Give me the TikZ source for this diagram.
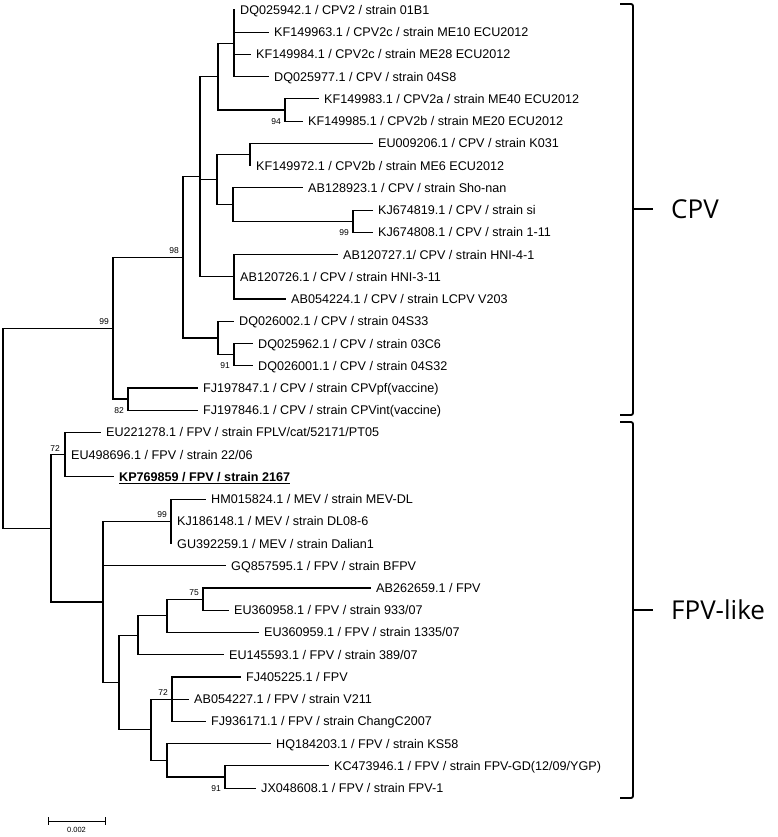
\documentclass[tikz,border=0pt]{standalone}
\usepackage{fontspec}
\setmainfont{Liberation Sans}
\newfontfamily\cladefont{Open Sans}
\usepackage{tikz}
\tikzstyle{leaf}=[anchor=west, inner xsep=6pt, inner ysep=0pt, text height=9pt, text depth=0pt, font=\fontsize{12.6}{14}\selectfont]
\tikzstyle{boot}=[inner sep=0pt, font=\fontsize{8.5}{10}\selectfont]
\tikzstyle{twig}=[line width=1.2pt, line cap=rect, to path={-| (\tikztotarget)}]
\tikzstyle{brace}=[line width=1.8pt, rounded corners=2pt]
\tikzstyle{clade}=[anchor=west, inner sep=0pt, font=\cladefont\fontsize{26}{30}\selectfont]

\begin{document}
\begin{tikzpicture}[x=1pt, y=-1pt]
            \useasboundingbox (0,0) rectangle (778,837);
            \coordinate (root) at (3, 428.2);
            % CPV
            \coordinate (n99) at (113, 328.15) edge[twig] (root);
            \coordinate (n98) at (183, 257.3) edge[twig] (n99);
            \coordinate (nA) at (200, 176.7) edge[twig] (n98);
            \coordinate (nB) at (218, 76.7) edge[twig] (nA);
            \coordinate (nC) at (234, 43.35) edge[twig] (nB);
            \coordinate (n94) at (285, 110.05) edge[twig] (nB);
            \coordinate (nD) at (217, 179.5) edge[twig] (nA);
            \coordinate (nE) at (250, 154.5) edge[twig] (nD);
            \coordinate (nF) at (233, 204.5) edge[twig] (nD);
            \coordinate (n99b) at (353, 221.2) edge[twig] (nF);
            \coordinate (nG) at (234, 276.75) edge[twig] (nA);
            \coordinate (nH) at (218, 337.9) edge[twig] (n98);
            \coordinate (n91) at (234, 354.6) edge[twig] (nH);
            \coordinate (n82) at (128, 399) edge[twig] (n99);
            % FPV-like
            \coordinate (nI) at (51, 528.25) edge[twig] (root);
            \coordinate (n72) at (65, 454.6) edge[twig] (nI);
            \coordinate (nJ) at (103, 601.9) edge[twig] (nI);
            \coordinate (n99c) at (171, 521.3) edge[twig] (nJ);
            \coordinate (nK) at (119, 682.45) edge[twig] (nJ);
            \coordinate (nL) at (138, 635.2) edge[twig] (nK);
            \coordinate (nM) at (167, 615.75) edge[twig] (nL);
            \coordinate (n75) at (203, 599.1) edge[twig] (nM);
            \coordinate (nN) at (151, 729.7) edge[twig] (nK);
            \coordinate (n72b) at (172, 699.15) edge[twig] (nN);
            \coordinate (nO) at (167, 760.3) edge[twig] (nN);
            \coordinate (n91b) at (225, 776.95) edge[twig] (nO);

            \node[leaf] (DQ025942) at (234, 10) {DQ025942.1 / CPV2 / strain 01B1}
                edge[twig] (nC)
            ;
            \node[leaf] (KF149963) at (268, 32.2) {KF149963.1 / CPV2c / strain ME10 ECU2012}
                edge[twig] (nC)
            ;
            \node[leaf] (KF149984) at (250, 54.5) {KF149984.1 / CPV2c / strain ME28 ECU2012}
                edge[twig] (nC)
            ;
            \node[leaf] (DQ025977) at (268, 76.7) {DQ025977.1 / CPV / strain 04S8}
                edge[twig] (nC)
            ;
            \node[leaf] (KF149983) at (318, 98.9) {KF149983.1 / CPV2a / strain ME40 ECU2012}
                edge[twig] (n94)
            ;
            \node[leaf] (KF149985) at (302, 121.2) {KF149985.1 / CPV2b / strain ME20 ECU2012}
                edge[twig] (n94)
            ;
            \node[leaf] (EU009206) at (372, 143.4) {EU009206.1 / CPV / strain K031}
                edge[twig] (nE)
            ;
            \node[leaf] (KF149972) at (250, 165.6) {KF149972.1 / CPV2b / strain ME6 ECU2012}
                edge[twig] (nE)
            ;
            \node[leaf] (AB128923) at (302, 187.8) {AB128923.1 / CPV / strain Sho-nan}
                edge[twig] (nF)
            ;
            \node[leaf] (KJ674819) at (372, 210.1) {KJ674819.1 / CPV / strain si}
                edge[twig] (n99b)
            ;
            \node[leaf] (KJ674808) at (372, 232.3) {KJ674808.1 / CPV / strain 1-11}
                edge[twig] (n99b)
            ;
            \node[leaf] (AB120727) at (337, 254.5) {AB120727.1/ CPV / strain HNI-4-1}
                edge[twig] (nG)
            ;
            \node[leaf] (AB120726) at (234, 276.8) {AB120726.1 / CPV / strain HNI-3-11}
                edge[twig] (nG)
            ;
            \node[leaf] (AB054224) at (285, 299) {AB054224.1 / CPV / strain LCPV V203}
                edge[twig] (nG)
            ;
            \node[leaf] (DQ026002) at (233, 321.2) {DQ026002.1 / CPV / strain 04S33}
                edge[twig] (nH)
            ;
            \node[leaf] (DQ025962) at (252, 343.5) {DQ025962.1 / CPV / strain 03C6}
                edge[twig] (n91)
            ;
            \node[leaf] (DQ026001) at (252, 365.7) {DQ026001.1 / CPV / strain 04S32}
                edge[twig] (n91)
            ;
            \node[leaf] (FJ197847) at (197, 387.9) {FJ197847.1 / CPV / strain CPVpf(vaccine)}
                edge[twig] (n82)
            ;
            \node[leaf] (FJ197846) at (197, 410.1) {FJ197846.1 / CPV / strain CPVint(vaccine)}
                edge[twig] (n82)
            ;
            \node[leaf] (EU221278) at (100, 432.4) {EU221278.1 / FPV / strain FPLV/cat/52171/PT05}
                edge[twig] (n72)
            ;
            \node[leaf] (EU498696) at (65, 454.6) {EU498696.1 / FPV / strain 22/06}
                edge[twig] (n72)
            ;
            \node[leaf] (KP769859) at (113, 476.8) {\underline{\textbf{KP769859 / FPV / strain 2167}}}
                edge[twig] (n72)
            ;
            \node[leaf] (HM015824) at (205, 499.1) {HM015824.1 / MEV / strain MEV-DL}
                edge[twig] (n99c)
            ;
            \node[leaf] (KJ186148) at (171, 521.3) {KJ186148.1 / MEV / strain DL08-6}
                edge[twig] (n99c)
            ;
            \node[leaf] (GU392259) at (171, 543.5) {GU392259.1 / MEV / strain Dalian1}
                edge[twig] (n99c)
            ;
            \node[leaf] (GQ857595) at (225, 565.8) {GQ857595.1 / FPV / strain BFPV}
                edge[twig] (nJ)
            ;
            \node[leaf] (AB262659) at (370, 588) {AB262659.1 / FPV}
                edge[twig] (n75)
            ;
            \node[leaf] (EU360958) at (228, 610.2) {EU360958.1 / FPV / strain 933/07}
                edge[twig] (n75)
            ;
            \node[leaf] (EU360959) at (258, 632.4) {EU360959.1 / FPV / strain 1335/07}
                edge[twig] (nM)
            ;
            \node[leaf] (EU145593) at (223, 654.7) {EU145593.1 / FPV / strain 389/07}
                edge[twig] (nL)
            ;
            \node[leaf] (FJ405225) at (240, 676.9) {FJ405225.1 / FPV}
                edge[twig] (n72b)
            ;
            \node[leaf] (AB054227) at (188, 699.1) {AB054227.1 / FPV / strain V211}
                edge[twig] (n72b)
            ;
            \node[leaf] (FJ936171) at (205, 721.4) {FJ936171.1 / FPV / strain ChangC2007}
                edge[twig] (n72b)
            ;
            \node[leaf] (HQ184203) at (270, 743.6) {HQ184203.1 / FPV / strain KS58}
                edge[twig] (nO)
            ;
            \node[leaf] (KC473946) at (328, 765.8) {KC473946.1 / FPV / strain FPV-GD(12/09/YGP)}
                edge[twig] (n91b)
            ;
            \node[leaf] (JX048608) at (255, 788.1) {JX048608.1 / FPV / strain FPV-1}
                edge[twig] (n91b)
            ;

            % bootstrap values
            \node[boot, anchor=south east] (b99) at (109, 325) {99};
            \node[boot, anchor=south east] (b98) at (179, 254) {98};
            \node[boot, anchor=east] (b94) at (281, 121.2) {94};
            \node[boot, anchor=east] (b99b) at (349, 232.3) {99};
            \node[boot, anchor=east] (b91) at (230, 365.7) {91};
            \node[boot, anchor=east] (b82) at (124, 410.1) {82};
            \node[boot, anchor=south east] (b72) at (60, 451.5) {72};
            \node[boot, anchor=south east] (b99c) at (167, 518) {99};
            \node[boot, anchor=south east] (b75) at (199, 596) {75};
            \node[boot, anchor=south east] (b72b) at (168, 696) {72};
            \node[boot, anchor=east] (b91b) at (221, 788.1) {91};

            % scale bar
            \coordinate (sbL) at (48, 821);
            \coordinate (sbR) at (105, 821);
            \draw[line width=1pt] (sbL) -- (sbR);
            \draw[line width=1pt] ([yshift=3.7pt]sbL) -- ([yshift=-3.7pt]sbL);
            \draw[line width=1pt] ([yshift=3.7pt]sbR) -- ([yshift=-3.7pt]sbR);
            \node[boot, anchor=north, font=\fontsize{7.5}{9}\selectfont] (sbT) at (76.5, 827) {0.002};

            % clades
            \draw[brace] (620, 4) -- (633, 4) -- (633, 415) -- (620, 415);
            \draw[brace] (633, 209) -- (653, 209);
            \node[clade] (CPV) at (671, 209) {CPV};
            \draw[brace] (620, 422) -- (633, 422) -- (633, 798) -- (620, 798);
            \draw[brace] (633, 610) -- (653, 610);
            \node[clade] (FPV) at (671, 610) {FPV-like};
        \end{tikzpicture}
\end{document}
